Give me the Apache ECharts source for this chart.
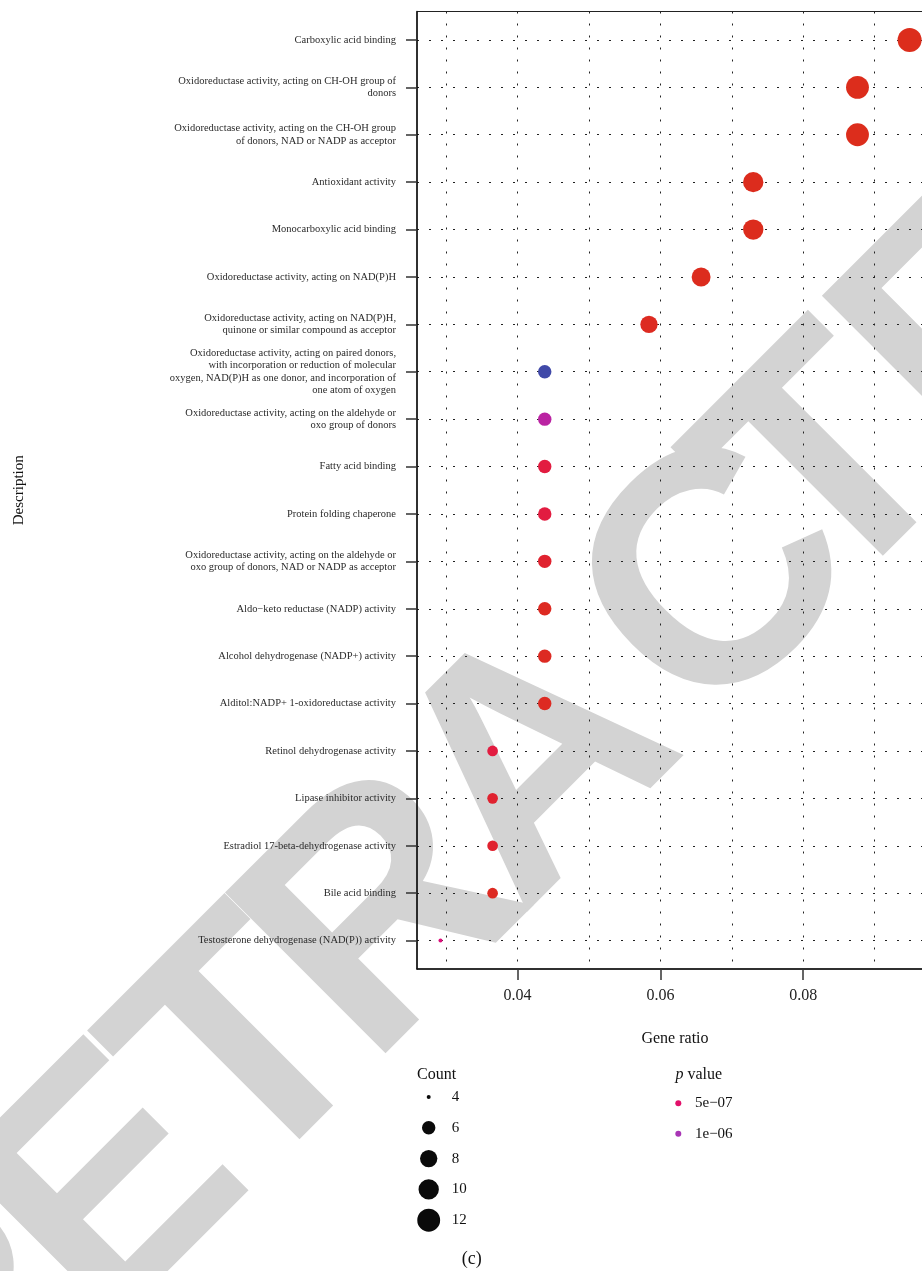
<!DOCTYPE html>
<html>
<head>
<meta charset="utf-8">
<script src="https://cdn.jsdelivr.net/npm/echarts@6/dist/echarts.min.js"></script>
<style>
  html, body { margin: 0; padding: 0; background: #ffffff; overflow: hidden; }
  #chart { width: 960px; height: 1271px; }
</style>
</head>
<body>
<div id="chart"></div>
<script>
// GO terms, top to bottom
const descriptions = [
  'Carboxylic acid binding',
  'Oxidoreductase activity, acting on CH-OH group of\ndonors',
  'Oxidoreductase activity, acting on the CH-OH group\nof donors, NAD or NADP as acceptor',
  'Antioxidant activity',
  'Monocarboxylic acid binding',
  'Oxidoreductase activity, acting on NAD(P)H',
  'Oxidoreductase activity, acting on NAD(P)H,\nquinone or similar compound as acceptor',
  'Oxidoreductase activity, acting on paired donors,\nwith incorporation or reduction of molecular\noxygen, NAD(P)H as one donor, and incorporation of\none atom of oxygen',
  'Oxidoreductase activity, acting on the aldehyde or\noxo group of donors',
  'Fatty acid binding',
  'Protein folding chaperone',
  'Oxidoreductase activity, acting on the aldehyde or\noxo group of donors, NAD or NADP as acceptor',
  'Aldo\u2212keto reductase (NADP) activity',
  'Alcohol dehydrogenase (NADP+) activity',
  'Alditol:NADP+ 1-oxidoreductase activity',
  'Retinol dehydrogenase activity',
  'Lipase inhibitor activity',
  'Estradiol 17-beta-dehydrogenase activity',
  'Bile acid binding',
  'Testosterone dehydrogenase (NAD(P)) activity'
];
const geneRatio = [0.0949, 0.0876, 0.0876, 0.0730, 0.0730, 0.0657, 0.0584,
  0.0438, 0.0438, 0.0438, 0.0438, 0.0438, 0.0438, 0.0438, 0.0438,
  0.0365, 0.0365, 0.0365, 0.0365, 0.0292];
const counts = [13, 12, 12, 10, 10, 9, 8, 6, 6, 6, 6, 6, 6, 6, 6, 5, 5, 5, 5, 4];
const pValues = [2e-9, 5e-9, 5e-9, 2e-8, 2e-8, 4e-8, 8e-8,
  1.6e-6, 8.5e-7, 3e-7, 3e-7, 2e-7, 1e-7, 1e-7, 1e-7,
  3e-7, 2e-7, 2e-7, 1e-7, 5.8e-7];

// axis breaks
const xGridBreaks = [0.03, 0.04, 0.05, 0.06, 0.07, 0.08, 0.09];
const xLabelBreaks = [0.04, 0.06, 0.08];
const xRange = [0.025912, 0.098175];
// legend breaks
const countBreaks = [4, 6, 8, 10, 12];
const pBreaks = [5e-7, 1e-6];
const pBreakLabels = ['5e\u221207', '1e\u221206'];

// colour ramp for p value (low = red, high = blue)
const pColourStops = [
  [0, '#dc2d1c'], [1e-7, '#dd2a22'], [2e-7, '#e0222f'], [3e-7, '#e21c40'],
  [4e-7, '#e3164f'], [5e-7, '#e2106a'], [6e-7, '#dc1080'], [7e-7, '#cf1890'],
  [8e-7, '#c01e9c'], [9e-7, '#b427a8'], [1e-6, '#a835b5'], [1.2e-6, '#8a3fb3'],
  [1.4e-6, '#6545ae'], [1.6e-6, '#4049a8']
];
function hexToRgb(h) {
  return [parseInt(h.slice(1, 3), 16), parseInt(h.slice(3, 5), 16), parseInt(h.slice(5, 7), 16)];
}
function pColour(p) {
  const s = pColourStops;
  if (p <= s[0][0]) return s[0][1];
  for (let i = 1; i < s.length; i++) {
    if (p <= s[i][0]) {
      const t = (p - s[i - 1][0]) / (s[i][0] - s[i - 1][0]);
      const a = hexToRgb(s[i - 1][1]), b = hexToRgb(s[i][1]);
      const c = a.map((v, k) => Math.round(v + (b[k] - v) * t));
      return 'rgb(' + c.join(',') + ')';
    }
  }
  return s[s.length - 1][1];
}

// area-proportional size scale for counts
const countMin = Math.min.apply(null, counts);
const countMax = Math.max.apply(null, counts);
const sizeRange = [4, 24];
function countSize(c) {
  const f = Math.max(0, (c - countMin) / (countMax - countMin));
  return sizeRange[0] + (sizeRange[1] - sizeRange[0]) * Math.sqrt(f);
}

const points = geneRatio.map((g, i) => [g, i, counts[i], pValues[i]]);
const rowIndex = descriptions.map((d, i) => i);

const serif = '"Liberation Serif", "DejaVu Serif", serif';
const dotted = { color: '#222', width: 1, type: [2, 10] };

// watermark letters, offsets along the slanted baseline
const wmLetters = ['R', 'E', 'T', 'R', 'A', 'C', 'T', 'E', 'D'];
const wmOffsets = [-968, -763, -570, -375, -161, 97, 255, 460, 675];

const legendGraphics = [];
legendGraphics.push({ type: 'text', x: 417, y: 1075, style: { text: 'Count', font: '16px ' + serif, fill: '#111', verticalAlign: 'middle' } });
countBreaks.forEach((c, i) => {
  const cy = 1097 + i * 30.8;
  legendGraphics.push({ type: 'circle', shape: { cx: 428.7, cy: cy, r: countSize(c) / 2 }, style: { fill: '#0a0a0a' } });
  legendGraphics.push({ type: 'text', x: 451.7, y: cy, style: { text: String(c), font: '15px ' + serif, fill: '#111', verticalAlign: 'middle' } });
});
legendGraphics.push({ type: 'text', x: 675.5, y: 1075, style: {
  text: '{i|p} value', font: '16px ' + serif, fill: '#111', verticalAlign: 'middle',
  rich: { i: { fontStyle: 'italic', font: 'italic 16px ' + serif, fill: '#111' } }
} });
pBreaks.forEach((p, i) => {
  const cy = 1103.3 + i * 30.4;
  legendGraphics.push({ type: 'circle', shape: { cx: 678.3, cy: cy, r: 3 }, style: { fill: pColour(p) } });
  legendGraphics.push({ type: 'text', x: 695, y: cy, style: { text: pBreakLabels[i], font: '15px ' + serif, fill: '#111', verticalAlign: 'middle' } });
});
legendGraphics.push({ type: 'text', x: 471.7, y: 1259, style: { text: '(c)', font: '18px ' + serif, fill: '#111', align: 'center', verticalAlign: 'middle' } });

const watermark = {
  type: 'group', x: 655, y: 655, rotation: Math.PI / 4, z: -10,
  children: wmLetters.map((ch, i) => ({
    type: 'text', x: wmOffsets[i], y: 0, z: -10,
    style: { text: ch, font: 'bold 330px "Liberation Sans", Arial, sans-serif', fill: '#d3d3d3', align: 'center', verticalAlign: 'middle' }
  }))
};

const chart = echarts.init(document.getElementById('chart'), null, { renderer: 'canvas' });
chart.setOption({
  animation: false,
  backgroundColor: '#ffffff',
  grid: { left: 417, top: 11.5, width: 516, height: 957.5, show: true, borderColor: '#222', borderWidth: 1,
    backgroundColor: 'transparent', containLabel: false, outerBoundsMode: 'none' },
  xAxis: [
    {
      type: 'value', min: xRange[0], max: xRange[1], position: 'bottom',
      axisLine: { show: false },
      axisTick: { show: false, customValues: xGridBreaks },
      axisLabel: { show: false, customValues: xGridBreaks },
      splitLine: { show: true, lineStyle: dotted }
    },
    {
      type: 'value', min: xRange[0], max: xRange[1], position: 'bottom',
      name: 'Gene ratio', nameLocation: 'middle', nameGap: 62,
      nameTextStyle: { fontFamily: serif, fontSize: 16, color: '#111' },
      axisLine: { show: true, lineStyle: { color: '#111', width: 1.5 } },
      axisTick: { show: true, length: 11, customValues: xLabelBreaks, lineStyle: { color: '#333', width: 1.5 } },
      axisLabel: { show: true, customValues: xLabelBreaks, margin: 19, fontFamily: serif, fontSize: 16, color: '#222',
        formatter: v => v.toFixed(2) },
      splitLine: { show: false }
    }
  ],
  yAxis: {
    type: 'value', inverse: true, min: -0.6, max: 19.6,
    name: 'Description', nameLocation: 'middle', nameGap: 390, nameRotate: 90,
    nameTextStyle: { fontFamily: serif, fontSize: 15, color: '#111' },
    axisLine: { show: true, lineStyle: { color: '#111', width: 1.5 } },
    axisTick: { show: true, length: 11, customValues: rowIndex, lineStyle: { color: '#333', width: 1.5 } },
    axisLabel: { show: true, customValues: rowIndex, margin: 21, fontFamily: serif, fontSize: 10.5, lineHeight: 12.5, color: '#2a2a2a', align: 'right',
      formatter: v => descriptions[v] },
    splitLine: { show: true, lineStyle: dotted }
  },
  series: [{
    type: 'scatter',
    xAxisIndex: 0,
    data: points,
    symbol: 'circle',
    symbolSize: d => countSize(d[2]),
    itemStyle: { opacity: 1, color: p => pColour(p.data[3]) },
    z: 5
  }],
  graphic: [watermark].concat(legendGraphics)
});
</script>
</body>
</html>
